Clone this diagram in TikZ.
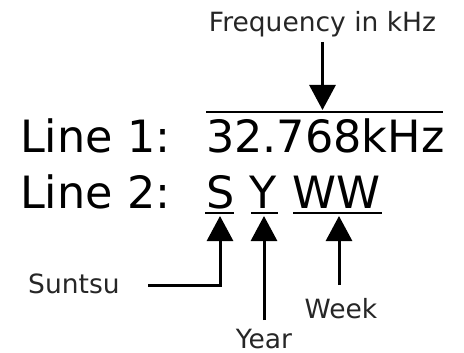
\documentclass[tikz,border=0pt]{standalone}
\usepackage{fontspec}
\setmainfont{DejaVu Sans}
\usetikzlibrary{arrows.meta,calc}
\tikzset{
  big/.style={inner sep=0pt, anchor=base west, font=\fontsize{44.5}{50}\selectfont},
  small/.style={inner sep=0pt, font=\fontsize{26.5}{30}\selectfont, text=black!85},
  rule/.style={line width=2.5pt},
  arr/.style={line width=3pt, -{Triangle[width=26pt,length=25pt]}},
}
\begin{document}
\begin{tikzpicture}[x=1pt,y=-1pt]
\useasboundingbox (0,0) rectangle (464,353);
% labels
\node[small, anchor=base] (freq) at (322.5,32) {Frequency in kHz};
\node[big] (l1) at (20,153) {Line 1:};
\node[big] (val) at (206,153) {32.768kHz};
\node[big] (l2) at (20,208) {Line 2:};
\node[big] (s) at (206,208) {S};
\node[big] (y) at (249,208) {Y};
\node[big] (w) at (292,208) {WW};
\node[small, anchor=base west] (suntsu) at (28,293) {Suntsu};
\node[small, anchor=base] (year) at (264,348) {Year};
\node[small, anchor=base] (week) at (341,318) {Week};
% over and underlines
\coordinate (ol1) at (206,112);
\coordinate (ol2) at (443,112);
\draw[rule] (ol1) -- (ol2);
\coordinate (su1) at (205,213); \coordinate (su2) at (234,213);
\coordinate (yu1) at (251,213); \coordinate (yu2) at (278,213);
\coordinate (wu1) at (293,213); \coordinate (wu2) at (382,213);
\draw[rule] (su1) -- (su2);
\draw[rule] (yu1) -- (yu2);
\draw[rule] (wu1) -- (wu2);
% arrows
\coordinate (ftip) at (322.5,110);
\draw[arr] ($(freq.base)+(0,10)$) -- (ftip);
\coordinate (stip) at (220,216);
\coordinate (sstart) at (148,285);
\draw[arr] (sstart) -- (220,285) -- (stip);
\coordinate (ytip) at (264,216);
\draw[arr] ($(year.base)+(0,-28)$) -- (ytip);
\coordinate (wtip) at (339,216);
\draw[arr] ($(week.base)+(-2,-33)$) -- (wtip);
\end{tikzpicture}
\end{document}
